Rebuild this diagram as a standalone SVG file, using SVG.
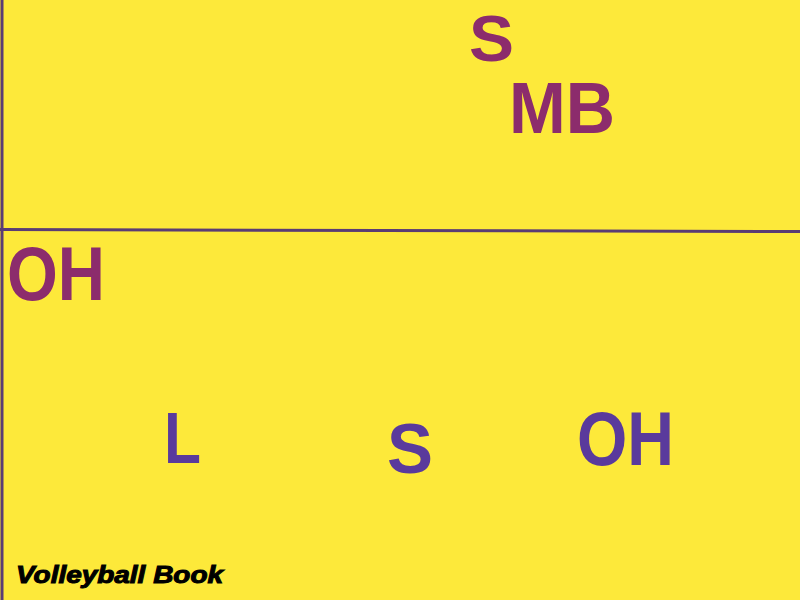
<svg xmlns="http://www.w3.org/2000/svg" width="800" height="600" viewBox="0 0 800 600">
<style>
.lbl{font-family:"Liberation Sans",Arial,sans-serif;font-weight:bold}
.m{fill:#8c2c6c}
.p{fill:#5a3a9c}
.ln{stroke:#5a3c74;stroke-width:3;fill:none}
</style>
<rect width="800" height="600" fill="#fde93a"/>
<g id="lines">
<line class="ln" x1="2" y1="0" x2="2" y2="600"/>
<line class="ln" x1="0" y1="229.500" x2="800" y2="231.500"/>
</g>
<g id="s-top"><text class="lbl m" x="469" y="61" font-size="65" textLength="45" lengthAdjust="spacingAndGlyphs">S</text></g>
<g id="mb"><text class="lbl m" x="509" y="133" font-size="72" textLength="106" lengthAdjust="spacingAndGlyphs">MB</text></g>
<g id="oh-left"><text class="lbl m" x="7" y="300" font-size="76" textLength="98" lengthAdjust="spacingAndGlyphs">OH</text></g>
<g id="l"><text class="lbl p" x="164" y="463" font-size="72" textLength="37" lengthAdjust="spacingAndGlyphs">L</text></g>
<g id="s-bottom"><text class="lbl p" x="387" y="473" font-size="70" textLength="46" lengthAdjust="spacingAndGlyphs">S</text></g>
<g id="oh-right"><text class="lbl p" x="577" y="465" font-size="76" textLength="97" lengthAdjust="spacingAndGlyphs">OH</text></g>
<text x="16" y="583" font-family="Liberation Sans,Arial,sans-serif" font-weight="bold" font-style="italic" font-size="23" fill="#000" stroke="#000" stroke-width="1" textLength="207" lengthAdjust="spacingAndGlyphs">Volleyball Book</text>
</svg>
